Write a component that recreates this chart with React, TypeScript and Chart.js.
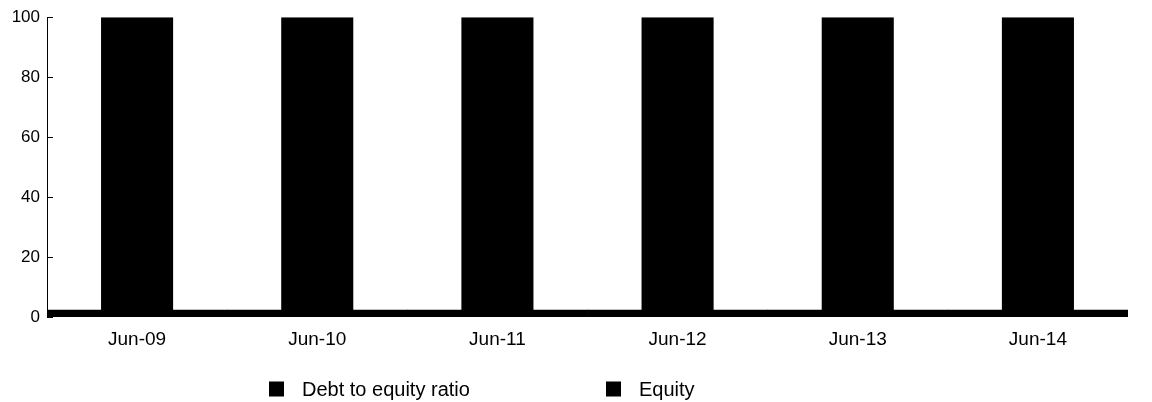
import React, { useEffect, useRef } from "react";
import { Chart, registerables } from "chart.js";

Chart.register(...registerables);

const categories = ["Jun-09", "Jun-10", "Jun-11", "Jun-12", "Jun-13", "Jun-14"];
const debtToEquity = [2.3, 2.3, 2.3, 2.3, 2.3, 2.3];
const equity = [100, 100, 100, 100, 100, 100];
const seriesLabels = ["Debt to equity ratio", "Equity"];
const yMin = 0;
const yMax = 100;
const yStep = 20;

const FONT_FAMILY = "'Liberation Sans', Arial, Helvetica, sans-serif";

const inwardTicksPlugin = {
  id: "inwardTicks",
  afterDraw(chart: any) {
    const ctx = chart.ctx as CanvasRenderingContext2D;
    const yScale = chart.scales.y;
    const left = chart.chartArea.left;
    ctx.save();
    ctx.strokeStyle = "#000";
    ctx.lineWidth = 1;
    yScale.ticks.forEach((t: any) => {
      const py = Math.round(yScale.getPixelForValue(t.value)) + 0.5;
      ctx.beginPath();
      ctx.moveTo(left, py);
      ctx.lineTo(left + 6, py);
      ctx.stroke();
    });
    ctx.restore();
  },
};

const legendPlugin = {
  id: "bottomLegend",
  afterDraw(chart: any) {
    const ctx = chart.ctx as CanvasRenderingContext2D;
    const itemX = [269, 606];
    const cy = 389;
    const box = 15;
    ctx.save();
    ctx.font = `20px ${FONT_FAMILY}`;
    ctx.textBaseline = "middle";
    ctx.textAlign = "left";
    chart.data.datasets.forEach((ds: any, i: number) => {
      const x = itemX[i];
      ctx.fillStyle = ds.backgroundColor;
      ctx.fillRect(x, cy - box / 2, box, box);
      ctx.fillStyle = "#000";
      ctx.fillText(ds.label, x + 33, cy + 1);
    });
    ctx.restore();
  },
};

export default function App() {
  const ref = useRef<HTMLCanvasElement | null>(null);

  useEffect(() => {
    document.body.style.margin = "0";
    const canvas = ref.current;
    if (!canvas) return;
    const chart = new Chart(canvas, {
      type: "bar",
      data: {
        labels: categories,
        datasets: [
          {
            label: seriesLabels[0],
            data: debtToEquity,
            backgroundColor: "#000000",
            borderWidth: 0,
            xAxisID: "x2",
            categoryPercentage: 1,
            barPercentage: 1,
            grouped: false,
          },
          {
            label: seriesLabels[1],
            data: equity,
            backgroundColor: "#000000",
            borderWidth: 0,
            xAxisID: "x",
            categoryPercentage: 0.8,
            barPercentage: 0.5,
            grouped: false,
          },
        ],
      },
      options: {
        responsive: false,
        animation: false,
        events: [],
        layout: { padding: { top: 11, right: 24, bottom: 45, left: 0 } },
        plugins: {
          legend: { display: false },
          tooltip: { enabled: false },
        },
        scales: {
          x: {
            type: "category",
            offset: true,
            grid: { display: false, drawTicks: false },
            border: { display: false },
            ticks: {
              font: { family: FONT_FAMILY, size: 19 },
              color: "#000",
              padding: 11,
              maxRotation: 0,
              autoSkip: false,
            },
            afterFit: (s: any) => {
              s.height = 40;
            },
          },
          x2: {
            type: "category",
            display: false,
            offset: true,
            labels: categories,
          },
          y: {
            min: yMin,
            max: yMax,
            ticks: {
              stepSize: yStep,
              font: { family: FONT_FAMILY, size: 17 },
              color: "#000",
              padding: 7,
            },
            grid: { display: false, drawTicks: false },
            border: { display: true, color: "#000", width: 1 },
            afterFit: (s: any) => {
              s.width = 47;
            },
          },
        },
      },
      plugins: [inwardTicksPlugin, legendPlugin],
    } as any);
    return () => chart.destroy();
  }, []);

  return (
    <div style={{ width: 1152, height: 402, background: "#fff" }}>
      <canvas ref={ref} width={1152} height={402} style={{ display: "block" }} />
    </div>
  );
}
